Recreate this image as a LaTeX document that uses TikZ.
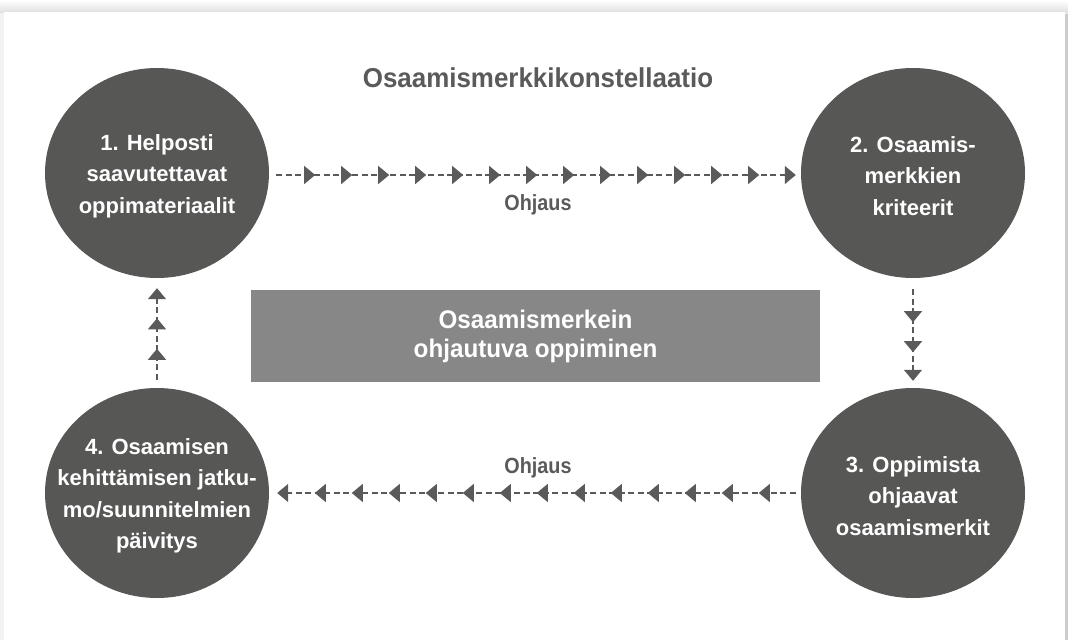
\documentclass[tikz,border=0pt]{standalone}
\usepackage{fontspec}
\setmainfont{Liberation Sans}
\newfontfamily\narrowfont{Liberation Sans}[FakeStretch=0.9]
\newfontfamily\widefont{Liberation Sans}[FakeStretch=0.95]
\usetikzlibrary{arrows.meta,%
                shapes.geometric,%
                decorations.markings}
\definecolor{circlegrey}{HTML}{575756}
\definecolor{boxgrey}{HTML}{878787}
\definecolor{linegrey}{HTML}{5A5A5A}

\begin{document}
\begin{tikzpicture}[x=1pt,y=-1pt,
    stage/.style={ellipse,fill=circlegrey,minimum width=224pt,minimum height=210pt,inner sep=0pt},
    stagetext/.style={text=white,align=center,inner sep=0pt,font=\fontsize{22}{31.5}\selectfont\bfseries},
    flowtext/.style={text=linegrey,anchor=base,font=\narrowfont\fontsize{22}{26}\selectfont\bfseries},
    ohjaus/.style n args={3}{draw=linegrey,line width=1.2pt,dash pattern=on 6pt off 3.5pt,
        -{Triangle[length=11pt,width=18pt]},
        decoration={markings,mark=between positions #1 and #2 step #3 with {\arrow{Triangle[length=11pt,width=18pt]}}},
        postaction={decorate}}]
        % card and its shadow
        \useasboundingbox (0,0) rectangle (1068,640);
        \fill[black!5] (0,0) rectangle (1068,640);
        \shade[top color=white,bottom color=black!12] (0,0) rectangle (1068,12);
        \fill[black!20] (1064,14) rectangle (1068,640);
        \fill[white] (4,12) rectangle (1065,640);
        \node[text=linegrey,anchor=base,font=\widefont\fontsize{27.3}{30}\selectfont\bfseries] (title) at (538,87) {Osaamismerkkikonstellaatio};
        \node[stage] (c1) at (157,173) {};
        \node[stage] (c2) at (913,173) {};
        \node[stage] (c3) at (913,493) {};
        \node[stage] (c4) at (157,493) {};
        \node[stagetext] (c1text) at ([yshift=-3pt]c1.center) {1. Helposti\\saavutettavat\\oppimateriaalit};
        \node[stagetext] (c2text) at ([yshift=-3pt]c2.center) {2. Osaamis-\\merkkien\\kriteerit};
        \node[stagetext] (c3text) at ([yshift=-3pt]c3.center) {3. Oppimista\\ohjaavat\\osaamismerkit};
        \node[stagetext] (c4text) at ([yshift=-3pt]c4.center) {4. Osaamisen\\kehittämisen jatku-\\mo/suunnitelmien\\päivitys};
        \node[fill=boxgrey,text=white,minimum width=569pt,minimum height=92pt,align=center,
            font=\widefont\fontsize{25.5}{29}\selectfont\bfseries] (core) at (535.5,336) {Osaamismerkein\\ohjautuva oppiminen};
        \node[flowtext] (ohjaus1) at (538,210) {Ohjaus};
        \node[flowtext] (ohjaus2) at (538,473) {Ohjaus};
        \draw[ohjaus={39pt}{484pt}{37pt}] ([xshift=7pt,yshift=-2pt]c1.east) -- ([xshift=-5pt,yshift=-2pt]c2.west);
        \draw[ohjaus={33pt}{64pt}{30pt}] ([yshift=-11pt]c2.south) -- ([yshift=7pt]c3.north);
        \draw[ohjaus={37pt}{482pt}{37pt}] ([xshift=-5pt]c3.west) -- ([xshift=8pt]c4.east);
        \draw[ohjaus={31pt}{62pt}{30.5pt}] ([yshift=8pt]c4.north) -- ([yshift=-10pt]c1.south);
    \end{tikzpicture}
\end{document}
